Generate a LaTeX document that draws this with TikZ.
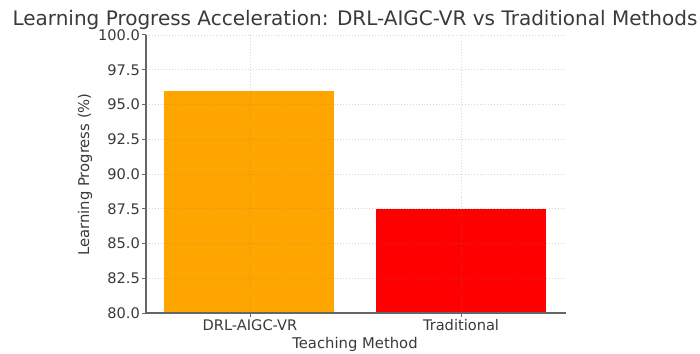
\documentclass[tikz,border=0pt]{standalone}
\usepackage{fontspec}
\setmainfont{DejaVu Sans}
\usepackage{xcolor}
\usepackage{tikz}
\definecolor{barorange}{HTML}{FFA500}
\definecolor{barred}{HTML}{FF0000}
\definecolor{spinegray}{HTML}{666666}
\definecolor{labelgray}{HTML}{3A3A3A}
\tikzstyle{ytick}=[anchor=east, inner sep=0pt, text=labelgray, font=\fontsize{14.6}{14.6}\selectfont]
\tikzstyle{xtick}=[anchor=base, inner sep=0pt, text=labelgray, font=\fontsize{14.6}{14.6}\selectfont]
\tikzstyle{axis label}=[anchor=base, inner sep=0pt, text=labelgray, font=\fontsize{14.8}{14.8}\selectfont]
\tikzstyle{title}=[anchor=base, inner sep=0pt, text=labelgray, font=\fontsize{20}{20}\selectfont]
\tikzstyle{grid line}=[-, draw=gray, opacity=0.3, dotted, line width=0.9pt]
\tikzstyle{spine}=[-, draw=spinegray, line width=1.3pt]
\tikzstyle{tick}=[-, draw=spinegray, line width=1pt]
\pgfdeclarelayer{barlayer}
\pgfdeclarelayer{gridlayer}
\pgfsetlayers{barlayer,gridlayer,main}

\begin{document}
\begin{tikzpicture}[x=1pt, y=-1pt]
	\useasboundingbox (0, 0) rectangle (700, 353);
	\begin{pgfonlayer}{barlayer}
		\fill [barorange] (164, 313) rectangle (334, 90.6);
		\fill [barred] (376, 313) rectangle (546, 208.75);
	\end{pgfonlayer}
	\begin{pgfonlayer}{gridlayer}
		\draw [style=grid line] (146, 35) -- (566, 35);
		\draw [style=grid line] (146, 69.75) -- (566, 69.75);
		\draw [style=grid line] (146, 104.5) -- (566, 104.5);
		\draw [style=grid line] (146, 139.25) -- (566, 139.25);
		\draw [style=grid line] (146, 174) -- (566, 174);
		\draw [style=grid line] (146, 208.75) -- (566, 208.75);
		\draw [style=grid line] (146, 243.5) -- (566, 243.5);
		\draw [style=grid line] (146, 278.25) -- (566, 278.25);
		\draw [style=grid line] (250, 35) -- (250, 313);
		\draw [style=grid line] (461, 35) -- (461, 313);
	\end{pgfonlayer}
	\coordinate (o) at (146, 313);
	\coordinate (ytop) at (146, 35);
	\coordinate (xend) at (566, 313);
	\draw [style=spine] (ytop) -- (o) -- (xend);
	% y ticks
	\node [style=ytick] (0) at (140, 35) {100.0};
	\node [style=ytick] (1) at (140, 69.75) {97.5};
	\node [style=ytick] (2) at (140, 104.5) {95.0};
	\node [style=ytick] (3) at (140, 139.25) {92.5};
	\node [style=ytick] (4) at (140, 174) {90.0};
	\node [style=ytick] (5) at (140, 208.75) {87.5};
	\node [style=ytick] (6) at (140, 243.5) {85.0};
	\node [style=ytick] (7) at (140, 278.25) {82.5};
	\node [style=ytick] (8) at (140, 313) {80.0};
	\draw [style=tick] (142, 35) -- (146, 35);
	\draw [style=tick] (142, 69.75) -- (146, 69.75);
	\draw [style=tick] (142, 104.5) -- (146, 104.5);
	\draw [style=tick] (142, 139.25) -- (146, 139.25);
	\draw [style=tick] (142, 174) -- (146, 174);
	\draw [style=tick] (142, 208.75) -- (146, 208.75);
	\draw [style=tick] (142, 243.5) -- (146, 243.5);
	\draw [style=tick] (142, 278.25) -- (146, 278.25);
	\draw [style=tick] (142, 313) -- (146, 313);
	% x ticks
	\draw [style=tick] (250, 313) -- (250, 317);
	\draw [style=tick] (461, 313) -- (461, 317);
	\node [style=xtick] (9) at (250, 330) {DRL-AIGC-VR};
	\node [style=xtick] (10) at (461, 330) {Traditional};
	% labels
	\node [style=axis label] (11) at (355, 348) {Teaching Method};
	\node [style=axis label, rotate=90] (12) at (89, 174.5) {Learning Progress (\%)};
	\node [style=title] (13) at (355, 26) {Learning Progress Acceleration: DRL-AIGC-VR vs Traditional Methods};
\end{tikzpicture}
\end{document}
